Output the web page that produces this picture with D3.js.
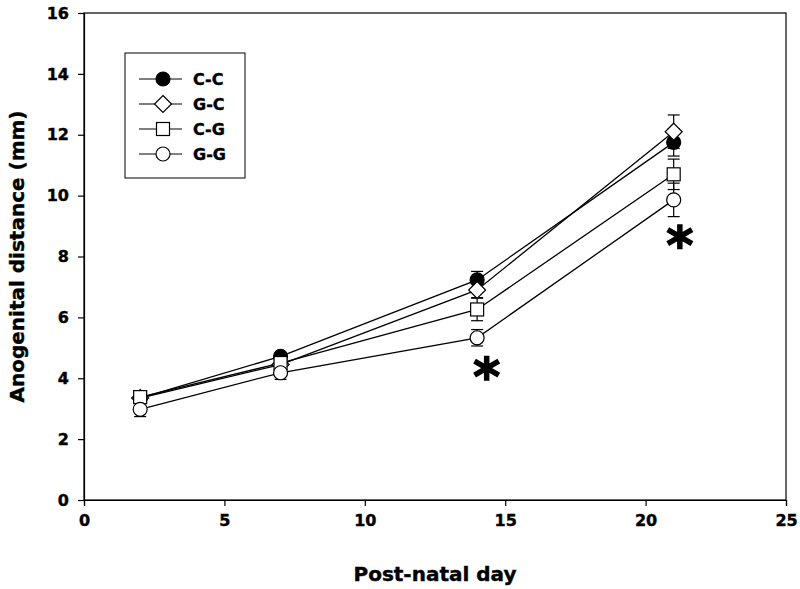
<!DOCTYPE html>
<html><head><meta charset="utf-8">
<script src="https://cdn.jsdelivr.net/npm/d3@7"></script>
<style>body{margin:0;background:#fff}svg{display:block}text{font-family:"DejaVu Sans",Verdana,sans-serif;font-weight:bold;stroke:#000;stroke-width:0.4px}</style>
</head><body>
<script>
const days = [2, 7, 14, 21];
const groups = ["C-C", "G-C", "C-G", "G-G"];
const meanCC = [3.35, 4.72, 7.23, 11.75];
const errCC  = [0.15, 0.12, 0.28, 0.45];
const meanGC = [3.35, 4.45, 6.90, 12.10];
const errGC  = [0.15, 0.15, 0.25, 0.55];
const meanCG = [3.38, 4.50, 6.26, 10.70];
const errCG  = [0.15, 0.15, 0.37, 0.50];
const meanGG = [2.98, 4.18, 5.33, 9.86];
const errGG  = [0.24, 0.22, 0.27, 0.55];
const xTicks = [0, 5, 10, 15, 20, 25];
const yTicks = [0, 2, 4, 6, 8, 10, 12, 14, 16];
const markers = ["filledCircle", "diamond", "square", "circle"];
const sigX = [14.34, 21.22];
const sigY = [4.33, 8.65];

const W = 800, H = 589;
const m = {l: 84, r: 14, t: 13, b: 89};
const svg = d3.select("body").append("svg").attr("width", W).attr("height", H);
const x = d3.scaleLinear().domain([0, 25]).range([m.l, W - m.r]);
const y = d3.scaleLinear().domain([0, 16]).range([H - m.b, m.t]);

// frame
svg.append("rect").attr("x", x(0)).attr("y", y(16)).attr("width", x(25) - x(0)).attr("height", y(0) - y(16))
  .attr("fill", "none").attr("stroke", "#000").attr("stroke-width", 1.2);

const xa = svg.append("g").attr("transform", `translate(0,${y(0)})`)
  .call(d3.axisBottom(x).tickValues(xTicks).tickSize(6).tickPadding(9).tickFormat(d3.format("d")));
const ya = svg.append("g").attr("transform", `translate(${x(0)},0)`)
  .call(d3.axisLeft(y).tickValues(yTicks).tickSize(6).tickPadding(9).tickFormat(d3.format("d")));
[xa, ya].forEach(a => {
  a.select(".domain").attr("stroke-width", 1.2);
  a.selectAll(".tick line").attr("stroke-width", 1.2);
  a.selectAll("text").attr("font-size", 16).attr("font-family", "'DejaVu Sans', Verdana, sans-serif").attr("font-weight", "bold").attr("fill", "#000");
});

svg.append("text").attr("x", (x(0) + x(25)) / 2).attr("y", 581).attr("text-anchor", "middle")
  .attr("font-size", 20).text("Post-natal day");
svg.append("text").attr("transform", `translate(24,${(y(0) + y(16)) / 2}) rotate(-90)`)
  .attr("text-anchor", "middle").attr("font-size", 20).text("Anogenital distance (mm)");

const series = [
  {name: groups[0], mean: meanCC, err: errCC, mk: markers[0]},
  {name: groups[1], mean: meanGC, err: errGC, mk: markers[1]},
  {name: groups[2], mean: meanCG, err: errCG, mk: markers[2]},
  {name: groups[3], mean: meanGG, err: errGG, mk: markers[3]}
];

function drawMarker(g, type, cx, cy) {
  if (type === "filledCircle") g.append("circle").attr("cx", cx).attr("cy", cy).attr("r", 7).attr("fill", "#000").attr("stroke", "#000").attr("stroke-width", 1.2);
  else if (type === "circle") g.append("circle").attr("cx", cx).attr("cy", cy).attr("r", 7).attr("fill", "#fff").attr("stroke", "#000").attr("stroke-width", 1.2);
  else if (type === "square") g.append("rect").attr("x", cx - 6.5).attr("y", cy - 6.5).attr("width", 13).attr("height", 13).attr("fill", "#fff").attr("stroke", "#000").attr("stroke-width", 1.2);
  else if (type === "diamond") g.append("path").attr("d", `M${cx},${cy - 8.5}L${cx + 8.5},${cy}L${cx},${cy + 8.5}L${cx - 8.5},${cy}Z`).attr("fill", "#fff").attr("stroke", "#000").attr("stroke-width", 1.2);
}

const line = d3.line().x((d, i) => x(days[i])).y(d => y(d));
const gLines = svg.append("g");
series.forEach(s => gLines.append("path").attr("d", line(s.mean)).attr("fill", "none").attr("stroke", "#000").attr("stroke-width", 1.3));
const gErr = svg.append("g").attr("stroke", "#000").attr("stroke-width", 1.2);
series.forEach(s => s.mean.forEach((v, i) => {
  const cx = x(days[i]);
  gErr.append("line").attr("x1", cx).attr("x2", cx).attr("y1", y(v - s.err[i])).attr("y2", y(v + s.err[i]));
  [v - s.err[i], v + s.err[i]].forEach(e => gErr.append("line").attr("x1", cx - 6).attr("x2", cx + 6).attr("y1", y(e)).attr("y2", y(e)));
}));
const gMk = svg.append("g");
[0, 1, 2, 3].forEach(k => { const s = series[k]; s.mean.forEach((v, i) => drawMarker(gMk, s.mk, x(days[i]), y(v))); });

// significance asterisks (6-arm heavy asterisk)
sigX.forEach((d, i) => {
  const cx = x(d), cy = y(sigY[i]);
  const arms = [[90, 12.5], [30, 14], [150, 14]];
  const p = arms.map(([a, L]) => {
    const r = a * Math.PI / 180, dx = L * Math.cos(r), dy = L * Math.sin(r);
    return `M${cx - dx},${cy + dy}L${cx + dx},${cy - dy}`;
  }).join("");
  svg.append("path").attr("d", p).attr("stroke", "#000").attr("stroke-width", 5.5).attr("fill", "none");
});

// legend
const lg = svg.append("g");
lg.append("rect").attr("x", 125).attr("y", 53).attr("width", 120).attr("height", 125).attr("fill", "#fff").attr("stroke", "#000").attr("stroke-width", 1);
series.forEach((s, i) => {
  const cy = 79 + i * 25;
  lg.append("line").attr("x1", 139).attr("x2", 182).attr("y1", cy).attr("y2", cy).attr("stroke", "#000").attr("stroke-width", 1.2);
  drawMarker(lg, s.mk, 163, cy);
  lg.append("text").attr("x", 193).attr("y", cy + 6).attr("font-size", 16).text(s.name);
});
</script>
</body></html>
